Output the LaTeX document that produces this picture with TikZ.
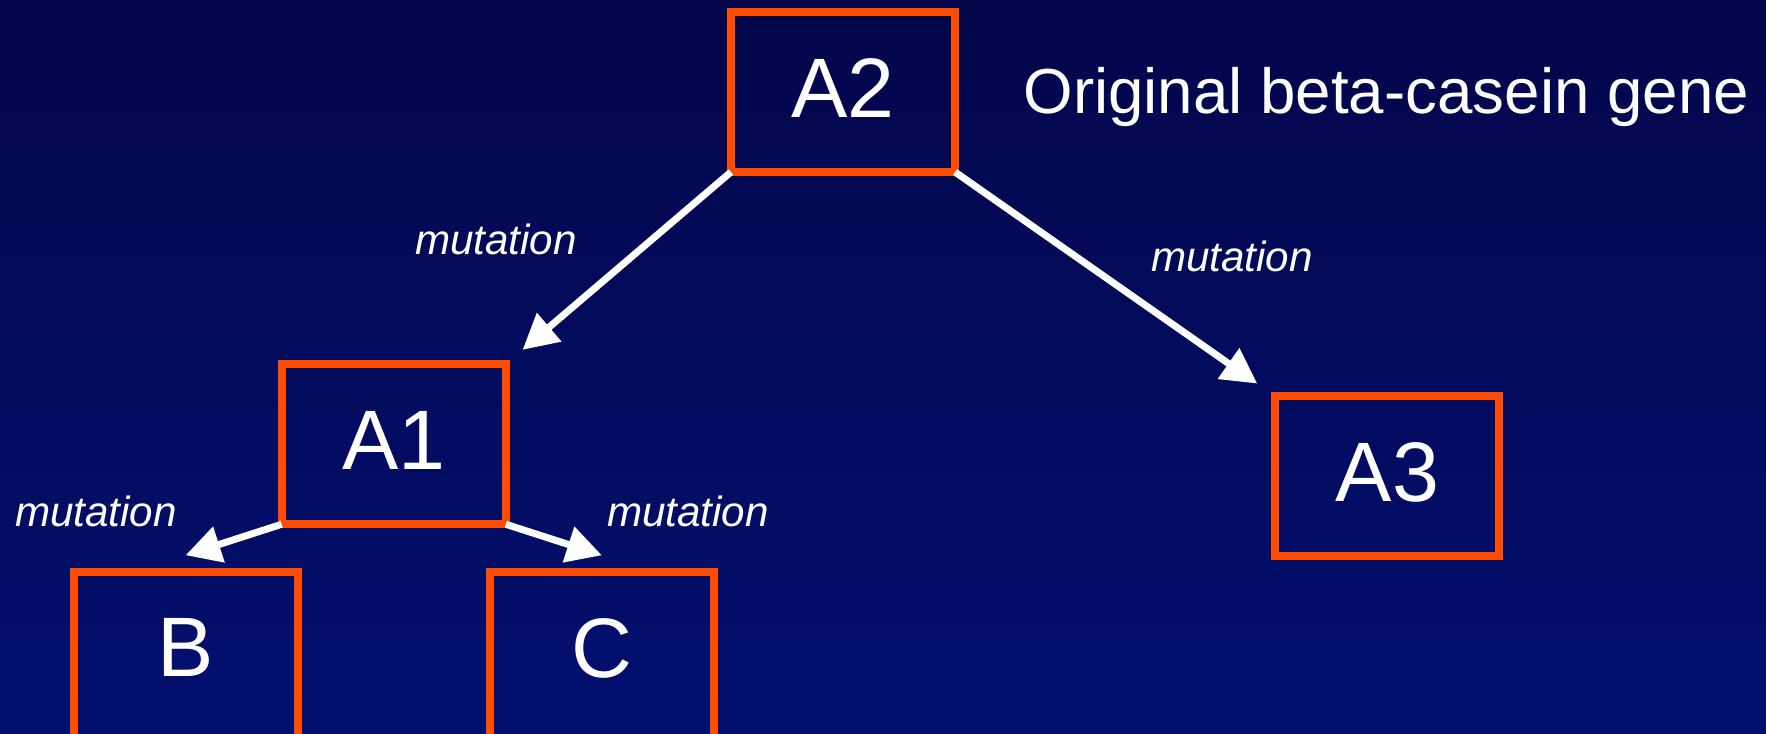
\documentclass[tikz,border=0pt]{standalone}
\usepackage{fontspec}
\setmainfont{Liberation Sans}
\usetikzlibrary{positioning,arrows.meta}
\definecolor{boxorange}{RGB}{255,76,0}
\definecolor{bgtop}{RGB}{3,6,74}
\definecolor{bgbottom}{RGB}{3,16,112}

\begin{document}
\begin{tikzpicture}[
    x = 0.01cm, y = -0.01cm,
    > = {Triangle[length=0.35cm, width=0.36cm]},
    line width = 0.07cm,
    gene/.style={rectangle, draw=boxorange, line width=0.08cm, text=white,
        minimum width=2.24cm, minimum height=1.6cm, inner sep=0pt, outer sep=0pt,
        text depth=0.08cm, font=\fontsize{24}{28}\selectfont},
    cut/.style={minimum height=1.76cm, text depth=0.25cm},
    note/.style={text=white, inner sep=0pt, anchor=base,
        font=\itshape\fontsize{12}{14}\selectfont}
]
    % background
    \shade[top color=bgtop, bottom color=bgbottom] (0,0) rectangle (1766,733);
    \useasboundingbox (0,0) rectangle (1766,733);

    \node[gene] (A2) at (843,92) {A2};
    \node[gene, below left=1.92cm and 2.25cm of A2] (A1) {A1};
    \node[gene, below right=2.24cm and 3.2cm of A2] (A3) {A3};
    \node[gene, cut, below=0.48cm of A1, xshift=-2.08cm] (B) {B};
    \node[gene, cut, below=0.48cm of A1, xshift=2.08cm] (C) {C};

    \node[text=white, inner sep=0pt, font=\fontsize{18.1}{22}\selectfont,
        right=0.65cm of A2, yshift=-0.053cm] (orig) {Original beta-casein gene};

    \path[->, white]
        (A2.south west) edge[shorten >=0.22cm] (A1.north east)
        (A2.south east) edge[shorten >=0.22cm] (A3.north west)
        (A1.south west) edge ([yshift=0.17cm]B.north)
        (A1.south east) edge ([yshift=0.17cm]C.north);

    \node[note] (m1) at (496,254) {mutation};
    \node[note] (m2) at (1232,271) {mutation};
    \node[note] (m3) at (96,526) {mutation};
    \node[note] (m4) at (688,526) {mutation};
\end{tikzpicture}
\end{document}
